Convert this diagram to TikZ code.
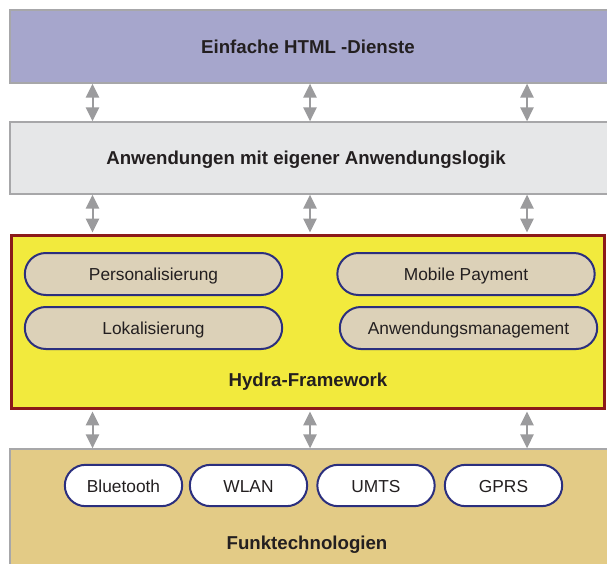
\documentclass[tikz,border=0pt]{standalone}
\usepackage{fontspec}
\setmainfont{Liberation Sans}
\usetikzlibrary{shapes.misc,arrows.meta}
\definecolor{htmlfill}{HTML}{A6A6CC}
\definecolor{appfill}{HTML}{E6E7E8}
\definecolor{hydrafill}{HTML}{F2EA3D}
\definecolor{hydraedge}{HTML}{8B1A1A}
\definecolor{funkfill}{HTML}{E3CB86}
\definecolor{pillfill}{HTML}{DCD1B8}
\definecolor{pilledge}{HTML}{2B2F7E}
\definecolor{boxedge}{HTML}{A7A7A9}
\definecolor{arrowgray}{HTML}{9B9B9D}
\definecolor{txt}{HTML}{231F20}
\tikzset{
  layer/.style={draw=boxedge, line width=1pt, rectangle, inner sep=0pt},
  title/.style={font=\bfseries\fontsize{14}{16}\selectfont, text=txt, inner sep=0pt,
    text height=1.85ex, text depth=0pt},
  pill/.style={rounded rectangle, draw=pilledge, line width=1.5pt, fill=pillfill,
    minimum width=193pt, minimum height=31.5pt, inner sep=0pt,
    text height=1.85ex, text depth=0pt,
    font=\fontsize{13}{15}\selectfont, text=txt},
  techpill/.style={pill, fill=white, minimum width=88pt, minimum height=31pt},
  biarrow/.style={arrowgray, line width=1.5pt,
    {Triangle[width=10pt,length=10.5pt]}-{Triangle[width=10pt,length=10.5pt]}, shorten <=0pt, shorten >=0pt}
}
\begin{document}
\begin{tikzpicture}[x=0.75pt,y=-0.75pt]
\useasboundingbox (0,0) rectangle (607,564);
% layers
\node[layer, fill=htmlfill, minimum width=451.5pt, minimum height=54.75pt] (html) at (311,46.5) {};
\node[title] (htmlt) at (308,46.5) {Einfache HTML -Dienste};
\node[layer, fill=appfill, minimum width=451.5pt, minimum height=54pt] (app) at (311,158) {};
\node[title] (appt) at (306,158) {Anwendungen mit eigener Anwendungslogik};
\node[rectangle, draw=hydraedge, line width=2.25pt, fill=hydrafill, inner sep=0pt,
      minimum width=444.75pt, minimum height=129.75pt] (hydra) at (308,322) {};
\node[title] (hydrat) at (308,380) {Hydra-Framework};
\node[layer, fill=funkfill, minimum width=451.5pt, minimum height=98.25pt] (funk) at (311,514.5) {};
\node[title] (funkt) at (307,543) {Funktechnologien};
% hydra pills
\node[pill] (pers) at (153.5,274) {Personalisierung};
\node[pill] (mob) at (466,274) {Mobile Payment};
\node[pill] (lok) at (153.5,328) {Lokalisierung};
\node[pill] (anw) at (468.5,328) {Anwendungsmanagement};
% tech pills
\node[techpill] (bt) at (123.5,485.5) {Bluetooth};
\node[techpill] (wlan) at (248.5,485.5) {WLAN};
\node[techpill] (umts) at (376,485.5) {UMTS};
\node[techpill] (gprs) at (503.5,485.5) {GPRS};
% arrow columns
\coordinate (c1) at (92.5,0);
\coordinate (c2) at (310,0);
\coordinate (c3) at (527,0);
\foreach \c in {c1,c2,c3}{
  \draw[biarrow] (html.south -| \c) -- (app.north -| \c);
  \draw[biarrow] (app.south -| \c) -- ([yshift=1.1pt]hydra.north -| \c);
  \draw[biarrow] ([yshift=-1.1pt]hydra.south -| \c) -- (funk.north -| \c);
}
\end{tikzpicture}
\end{document}
